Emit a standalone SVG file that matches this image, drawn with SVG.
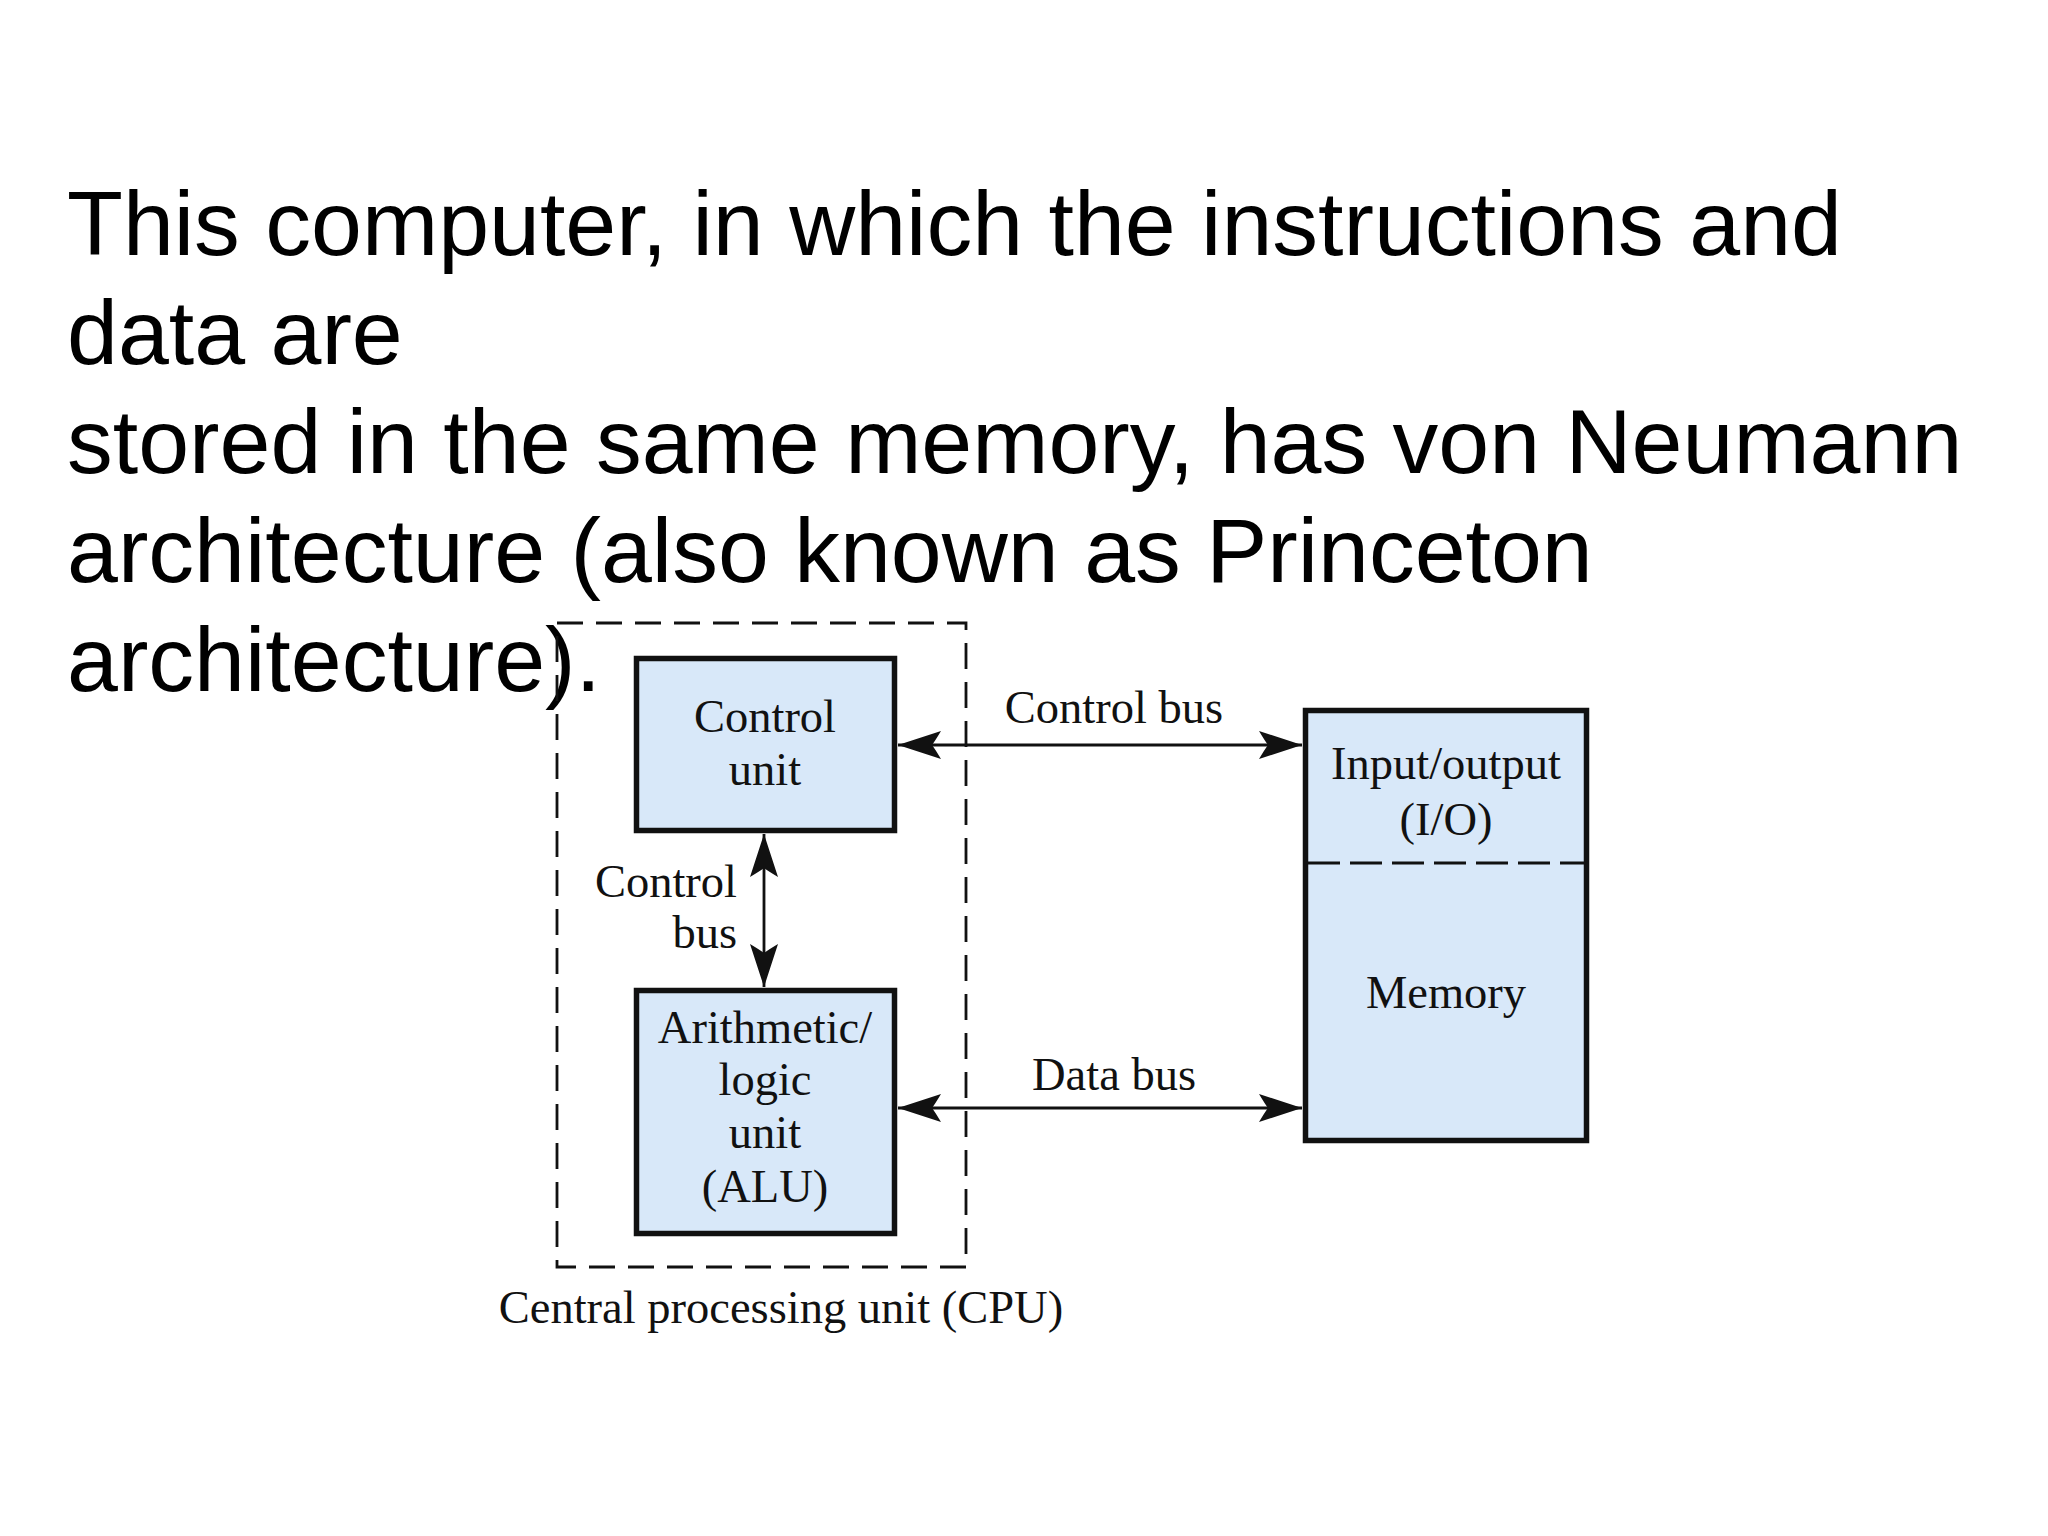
<svg xmlns="http://www.w3.org/2000/svg" width="2048" height="1536" viewBox="0 0 2048 1536">
<style>
.body{font-family:"Liberation Sans",Arial,sans-serif;font-size:91.5px;fill:#000}
.lbl{font-family:"Liberation Serif","Times New Roman",serif;font-size:46.5px;fill:#111;text-anchor:middle}
.box{fill:#d8e8f9;stroke:#111;stroke-width:5.5}
.dash{fill:none;stroke:#111;stroke-width:2.8;stroke-dasharray:26 13}
.bus{fill:none;stroke:#111;stroke-width:2.8;marker-start:url(#ah);marker-end:url(#ah)}
</style>
<defs>
<marker id="ah" markerUnits="userSpaceOnUse" viewBox="-46 -16 48 32" refX="0" refY="0" markerWidth="48" markerHeight="32" orient="auto-start-reverse">
<path d="M0,0 L-43,-14 Q-37,-4 -34,0 Q-37,4 -43,14 Z" fill="#111"/>
</marker>
</defs>
<rect width="2048" height="1536" fill="#fff"/>
<g id="caption">
<text class="body" x="67" y="255">This computer, in which the instructions and</text>
<text class="body" x="67" y="364">data are</text>
<text class="body" x="67" y="473">stored in the same memory, has von Neumann</text>
<text class="body" x="67" y="582">architecture (also known as Princeton</text>
<text class="body" x="67" y="691">architecture).</text>
</g>
<g id="cpu">
<rect class="dash" x="557" y="623" width="409" height="644"/>
<text class="lbl" x="781" y="1323">Central processing unit (CPU)</text>
</g>
<g id="control-unit">
<rect class="box" x="636.5" y="658.5" width="258" height="172"/>
<text class="lbl" x="765" y="732">Control</text>
<text class="lbl" x="765" y="785">unit</text>
</g>
<g id="alu">
<rect class="box" x="636.5" y="990.5" width="258" height="243"/>
<text class="lbl" x="765" y="1043">Arithmetic/</text>
<text class="lbl" x="765" y="1095">logic</text>
<text class="lbl" x="765" y="1148">unit</text>
<text class="lbl" x="765" y="1202">(ALU)</text>
</g>
<g id="io-memory">
<rect class="box" x="1305.5" y="710.5" width="281" height="430"/>
<line x1="1308" y1="863" x2="1584" y2="863" stroke="#111" stroke-width="2.8" stroke-dasharray="32 10"/>
<text class="lbl" x="1446" y="779">Input/output</text>
<text class="lbl" x="1446" y="835">(I/O)</text>
<text class="lbl" x="1446" y="1008">Memory</text>
</g>
<g id="connectors">
<line class="bus" x1="898" y1="745" x2="1302" y2="745"/>
<text class="lbl" x="1114" y="723">Control bus</text>
<line class="bus" x1="898" y1="1108" x2="1302" y2="1108"/>
<text class="lbl" x="1114" y="1090">Data bus</text>
<line class="bus" x1="764" y1="834" x2="764" y2="987"/>
<text class="lbl" x="737" y="897" style="text-anchor:end">Control</text>
<text class="lbl" x="737" y="948" style="text-anchor:end">bus</text>
</g>
</svg>
